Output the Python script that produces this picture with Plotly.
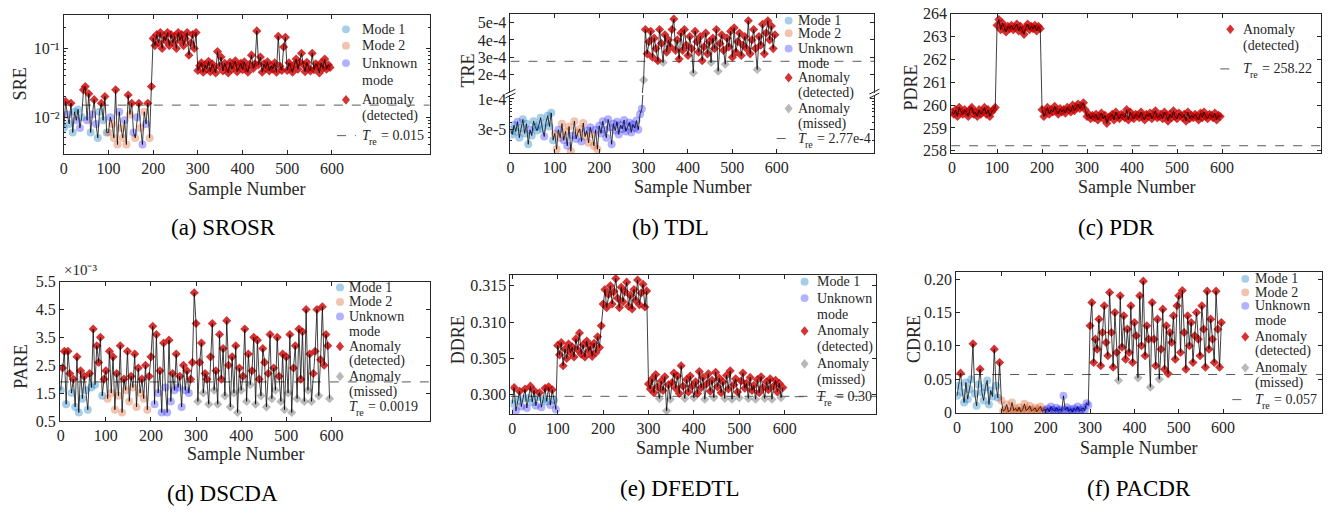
import plotly.graph_objects as go

W, H = 1332, 515
SERIF = "Liberation Serif"
INK = "#262626"

# ---------------- data ----------------
sample_numbers = list(range(0, 600, 4))
xtick_vals = [0, 100, 200, 300, 400, 500, 600]

# (a) SROSR  - SRE
sre_values = [
    0.007, 0.017, 0.011, 0.008, 0.016, 0.006, 0.012, 0.009, 0.013, 0.007,
    0.010, 0.025, 0.028, 0.009, 0.022, 0.006, 0.011, 0.018, 0.008, 0.005,
    0.012, 0.016, 0.009, 0.020, 0.006,
    0.006, 0.010, 0.008, 0.005, 0.025, 0.004, 0.012, 0.007, 0.005, 0.009,
    0.004, 0.021, 0.011, 0.016, 0.006, 0.005, 0.010, 0.016, 0.007, 0.004,
    0.012, 0.008, 0.016, 0.005, 0.028,
    0.14, 0.11, 0.16, 0.12, 0.17, 0.10, 0.15, 0.13, 0.17, 0.11,
    0.16, 0.12, 0.15, 0.10, 0.17, 0.13, 0.16, 0.11, 0.14, 0.17,
    0.08, 0.12, 0.16, 0.10, 0.17,
    0.048, 0.056, 0.062, 0.045, 0.058, 0.050, 0.065, 0.046, 0.060, 0.052,
    0.044, 0.090, 0.055, 0.075, 0.047, 0.061, 0.053, 0.044, 0.063, 0.050,
    0.057, 0.066, 0.046, 0.055, 0.061, 0.049, 0.064, 0.052, 0.045, 0.059,
    0.080, 0.051, 0.060, 0.180, 0.058, 0.075, 0.045, 0.060, 0.051, 0.064,
    0.047, 0.056, 0.050, 0.062, 0.045, 0.150, 0.055, 0.048, 0.105, 0.145,
    0.048, 0.062, 0.053, 0.045, 0.058, 0.070, 0.050, 0.063, 0.085, 0.058,
    0.046, 0.063, 0.052, 0.047, 0.085, 0.049, 0.060, 0.055, 0.044, 0.062,
    0.051, 0.070, 0.050, 0.058, 0.053,
]
sre_classes = ("11U1U11U1U1U1U11U1U11U1U1" + "2U22U2U22U2U22U2U22U2U22U"
               + "A" * 25 + "A" * 75)
sre_threshold = 0.015

# (b) TDL - TRE
tre_values = [
    3.0e-5, 2.5e-5, 3.6e-5, 2.8e-5, 4.1e-5, 2.2e-5, 3.2e-5, 4.5e-5, 2.6e-5, 3.8e-5,
    1.7e-5, 3.0e-5, 2.4e-5, 4.2e-5, 3.3e-5, 2.9e-5, 3.6e-5, 4.8e-5, 3.1e-5, 2.3e-5,
    4.0e-5, 5.2e-5, 3.4e-5, 5.8e-5, 2.0e-5,
    2.6e-5, 1.4e-5, 3.0e-5, 2.2e-5, 3.8e-5, 2.0e-5, 2.8e-5, 1.6e-5, 3.4e-5, 1.3e-5,
    2.4e-5, 4.2e-5, 2.1e-5, 2.7e-5, 3.1e-5, 1.9e-5, 3.9e-5, 2.3e-5, 2.9e-5, 1.8e-5,
    3.3e-5, 2.5e-5, 1.6e-5, 3.0e-5, 1.4e-5,
    3.5e-5, 2.6e-5, 4.2e-5, 3.0e-5, 2.2e-5, 4.5e-5, 3.3e-5, 1.7e-5, 3.8e-5, 2.9e-5,
    4.1e-5, 2.5e-5, 3.6e-5, 3.1e-5, 4.4e-5, 2.8e-5, 3.4e-5, 4.0e-5, 2.7e-5, 3.7e-5,
    3.2e-5, 4.3e-5, 3.0e-5, 5.5e-5, 6.8e-5,
    1.7e-4, 4.6e-4, 3.2e-4, 3.9e-4, 4.5e-4, 3.0e-4, 4.1e-4, 3.5e-4, 2.8e-4, 4.6e-4,
    3.8e-4, 2.7e-4, 4.3e-4, 3.3e-4, 4.0e-4, 3.6e-4, 4.6e-4, 5.2e-4, 3.4e-4, 4.0e-4,
    2.9e-4, 4.4e-4, 3.4e-4, 4.6e-4, 3.7e-4, 3.1e-4, 4.2e-4, 3.5e-4, 2.1e-4, 4.5e-4,
    3.9e-4, 3.3e-4, 4.2e-4, 2.8e-4, 3.6e-4, 4.4e-4, 3.2e-4, 3.9e-4, 2.7e-4, 4.1e-4,
    3.5e-4, 4.6e-4, 2.2e-4, 3.8e-4, 4.3e-4, 3.4e-4, 2.6e-4, 4.1e-4, 3.6e-4, 4.5e-4,
    3.0e-4, 4.7e-4, 3.3e-4, 3.9e-4, 4.4e-4, 3.1e-4, 3.7e-4, 4.2e-4, 3.5e-4, 5.1e-4,
    3.2e-4, 4.0e-4, 4.6e-4, 3.5e-4, 2.3e-4, 4.2e-4, 3.7e-4, 4.9e-4, 3.2e-4, 4.4e-4,
    5.1e-4, 4.0e-4, 4.8e-4, 3.5e-4, 4.3e-4,
]
tre_classes = ("1111U111111U1111111U11111" + "22U22U2U22U2U22U22U2U22U2"
               + "U" * 25 + "A" * 75)
tre_threshold = 2.77e-4

# (c) PDR - PDRE
pdre_values = [
    259.7, 259.6, 259.8, 259.5, 259.9, 259.7, 259.6, 259.8, 259.7, 259.5,
    259.8, 259.9, 259.6, 259.7, 259.5, 259.8, 259.6, 259.7, 259.9, 259.6,
    259.8, 259.5, 259.7, 259.8, 259.9,
    263.5, 263.75, 263.3, 263.6, 263.4, 263.2, 263.45, 263.35, 263.5, 263.3,
    263.4, 263.55, 263.25, 263.45, 263.3, 263.1, 263.4, 263.55, 263.3, 263.45,
    263.35, 263.5, 263.25, 263.45, 263.35,
    259.8, 259.5, 259.7, 259.9, 259.6, 259.8, 259.7, 259.95, 259.75, 259.6,
    259.85, 259.7, 259.8, 259.65, 259.9, 259.8, 259.7, 260.0, 259.75, 259.9,
    260.05, 259.85, 259.95, 260.1, 259.8,
    259.5, 259.6, 259.4, 259.55, 259.45, 259.6, 259.35, 259.5, 259.65, 259.4,
    259.55, 259.2, 259.45, 259.5, 259.6, 259.35, 259.7, 259.5, 259.4, 259.6,
    259.55, 259.45, 259.8, 259.35, 259.7, 259.5, 259.4, 259.6, 259.55, 259.45,
    259.7, 259.5, 259.35, 259.6, 259.5, 259.65, 259.4, 259.55, 259.75, 259.45,
    259.5, 259.6, 259.4, 259.7, 259.55, 259.3, 259.6, 259.45, 259.75, 259.5,
    259.4, 259.65, 259.55, 259.45, 259.6, 259.3, 259.7, 259.4, 259.55, 259.45,
    259.6, 259.5, 259.35, 259.65, 259.45, 259.7, 259.5, 259.4, 259.6, 259.55,
    259.45, 259.65, 259.35, 259.55, 259.5,
]
pdre_classes = "A" * 150
pdre_threshold = 258.22

# (d) DSCDA - PARE
pare_values = [
    1.6e-3, 2.4e-3, 3.0e-3, 1.1e-3, 3.0e-3, 2.2e-3, 1.5e-3, 2.0e-3, 1.0e-3, 2.8e-3,
    0.8e-3, 2.3e-3, 1.3e-3, 2.1e-3, 1.6e-3, 0.9e-3, 2.2e-3, 1.7e-3, 3.8e-3, 1.8e-3,
    3.2e-3, 2.6e-3, 3.5e-3, 1.4e-3, 2.0e-3,
    2.3e-3, 1.3e-3, 3.0e-3, 1.5e-3, 2.8e-3, 0.9e-3, 2.2e-3, 1.4e-3, 3.2e-3, 0.8e-3,
    2.0e-3, 1.6e-3, 3.0e-3, 1.2e-3, 2.1e-3, 1.7e-3, 2.9e-3, 1.0e-3, 2.4e-3, 1.5e-3,
    2.0e-3, 1.3e-3, 2.5e-3, 0.9e-3, 2.1e-3,
    2.8e-3, 3.9e-3, 1.1e-3, 3.6e-3, 1.5e-3, 2.3e-3, 0.8e-3, 3.3e-3, 1.7e-3, 0.8e-3,
    3.4e-3, 1.2e-3, 2.2e-3, 1.6e-3, 2.9e-3, 1.7e-3, 2.1e-3, 1.0e-3, 2.5e-3, 1.6e-3,
    2.3e-3, 1.5e-3, 2.0e-3, 2.6e-3, 5.1e-3,
    4.0e-3, 1.2e-3, 2.6e-3, 3.3e-3, 1.5e-3, 2.2e-3, 2.0e-3, 1.1e-3, 2.8e-3, 4.0e-3,
    1.6e-3, 2.3e-3, 1.1e-3, 3.6e-3, 2.0e-3, 3.1e-3, 1.4e-3, 4.1e-3, 2.5e-3, 1.0e-3,
    2.8e-3, 1.5e-3, 3.2e-3, 0.8e-3, 2.4e-3, 1.6e-3, 2.1e-3, 3.8e-3, 1.2e-3, 2.9e-3,
    1.8e-3, 2.3e-3, 3.5e-3, 1.1e-3, 3.4e-3, 2.0e-3, 1.4e-3, 3.1e-3, 2.6e-3, 1.0e-3,
    2.2e-3, 3.6e-3, 1.3e-3, 2.4e-3, 1.6e-3, 3.5e-3, 2.1e-3, 1.2e-3, 2.9e-3, 0.9e-3,
    2.8e-3, 1.5e-3, 3.6e-3, 0.8e-3, 2.4e-3, 3.2e-3, 1.3e-3, 3.8e-3, 2.0e-3, 3.7e-3,
    1.2e-3, 4.5e-3, 1.6e-3, 2.9e-3, 1.2e-3, 2.2e-3, 3.0e-3, 4.5e-3, 1.4e-3, 2.7e-3,
    4.6e-3, 2.5e-3, 3.6e-3, 3.2e-3, 1.3e-3,
]
pare_classes = "1" * 25 + "2" * 25 + "U" * 25 + "A" * 75
pare_threshold = 0.0019

# (e) DFEDTL - DDRE
ddre_values = [
    0.2988, 0.3010, 0.2978, 0.2992, 0.3005, 0.2984, 0.2995, 0.3008, 0.2982, 0.2996,
    0.3012, 0.2990, 0.3006, 0.2985, 0.2997, 0.3003, 0.2983, 0.2994, 0.3009, 0.2991,
    0.3011, 0.2986, 0.3007, 0.2993, 0.2980,
    0.3068, 0.3055, 0.3072, 0.3040, 0.3063, 0.3050, 0.3070, 0.3058, 0.3066, 0.3052,
    0.3077, 0.3062, 0.3085, 0.3056, 0.3069, 0.3052, 0.3074, 0.3060, 0.3067, 0.3053,
    0.3071, 0.3058, 0.3080, 0.3065, 0.3095,
    0.3125, 0.3145, 0.3120, 0.3138, 0.3150, 0.3125, 0.3142, 0.3160, 0.3133, 0.3120,
    0.3148, 0.3128, 0.3142, 0.3155, 0.3122, 0.3137, 0.3118, 0.3145, 0.3130, 0.3158,
    0.3124, 0.3140, 0.3152, 0.3121, 0.3143,
    0.3015, 0.3008, 0.3022, 0.3003, 0.3028, 0.3011, 0.2995, 0.3019, 0.3006, 0.3025,
    0.2978, 0.3014, 0.2994, 0.3017, 0.3030, 0.3009, 0.3026, 0.3002, 0.3040, 0.3012,
    0.2995, 0.3021, 0.3004, 0.3026, 0.3012, 0.2996, 0.3018, 0.3002, 0.3032, 0.3010,
    0.3024, 0.2994, 0.3015, 0.3029, 0.3005, 0.3020, 0.2996, 0.3031, 0.3011, 0.3023,
    0.3003, 0.3018, 0.2995, 0.3027, 0.3008, 0.3033, 0.2994, 0.3014, 0.3022, 0.3004,
    0.2996, 0.3019, 0.3030, 0.3009, 0.3016, 0.2995, 0.3024, 0.3006, 0.3013, 0.2994,
    0.3021, 0.3003, 0.3025, 0.3010, 0.2995, 0.3018, 0.3007, 0.3022, 0.2994, 0.3012,
    0.3020, 0.3004, 0.3016, 0.2996, 0.3010,
]
ddre_classes = "11U11U11U1111U11U1111U11U" + "A" * 125
ddre_threshold = 0.2998

# (f) PACDR - CDRE
cdre_values = [
    0.025, 0.040, 0.059, 0.030, 0.015, 0.045, 0.020, 0.035, 0.050, 0.103,
    0.028, 0.010, 0.042, 0.065, 0.030, 0.018, 0.038, 0.048, 0.012, 0.033,
    0.024, 0.095, 0.040, 0.022, 0.075,
    0.018, 0.002, 0.004, 0.012, 0.001, 0.003, 0.015, 0.003, 0.006, 0.002,
    0.008, 0.001, 0.004, 0.013, 0.003, 0.005, 0.010, 0.002, 0.004, 0.007,
    0.001, 0.005, 0.009, 0.002, 0.004,
    0.003, 0.006, 0.001, 0.009, 0.004, 0.002, 0.007, 0.003, 0.005, 0.002,
    0.025, 0.004, 0.008, 0.002, 0.005, 0.001, 0.006, 0.003, 0.009, 0.002,
    0.004, 0.007, 0.003, 0.014, 0.011,
    0.130, 0.165, 0.075, 0.110, 0.095, 0.140, 0.070, 0.120, 0.160, 0.105,
    0.085, 0.180, 0.120, 0.068, 0.150, 0.090, 0.048, 0.175, 0.098, 0.145,
    0.080, 0.125, 0.090, 0.160, 0.075, 0.135, 0.115, 0.052, 0.175, 0.100,
    0.197, 0.085, 0.130, 0.110, 0.038, 0.165, 0.110, 0.070, 0.140, 0.050,
    0.095, 0.155, 0.065, 0.130, 0.058, 0.120, 0.105, 0.145, 0.080, 0.160,
    0.175, 0.090, 0.183, 0.120, 0.065, 0.145, 0.100, 0.135, 0.075, 0.115,
    0.150, 0.110, 0.085, 0.160, 0.125, 0.068, 0.182, 0.095, 0.140, 0.110,
    0.075, 0.182, 0.125, 0.068, 0.135,
]
cdre_classes = "1" * 25 + "2" * 25 + "U" * 25 + "A" * 75
cdre_threshold = 0.057

for arr, cls in [(sre_values, sre_classes), (tre_values, tre_classes), (pdre_values, pdre_classes),
                 (pare_values, pare_classes), (ddre_values, ddre_classes), (cdre_values, cdre_classes)]:
    assert len(arr) == len(sample_numbers) == len(cls), (len(arr), len(cls))


# ---------------- helpers ----------------
def px_x(p):
    return p / W


def px_y(p):
    return 1 - p / H


STYLE = {
    "1": ("Mode 1", "circle", "rgba(0,114,189,0.35)", 8),
    "2": ("Mode 2", "circle", "rgba(217,83,25,0.35)", 8),
    "U": ("Unknown mode", "circle", "rgba(0,0,255,0.30)", 8),
    "M": ("Anomaly (missed)", "diamond", "rgba(128,128,128,0.55)", 7),
    "D": ("Anomaly (detected)", "diamond", "rgba(200,0,0,0.80)", 7),
}

fig = go.Figure()


def add_series(values, classes, thr, xref, yref, xr):
    fig.add_trace(go.Scatter(x=[xr[0], xr[1]], y=[thr, thr], mode="lines",
                             line=dict(color="rgb(90,90,90)", width=1, dash="dash"),
                             xaxis=xref, yaxis=yref, showlegend=False, hoverinfo="skip"))
    groups = {k: ([], []) for k in "12UMD"}
    for s, v, c in zip(sample_numbers, values, classes):
        k = "D" if v > thr else ("M" if c == "A" else c)
        groups[k][0].append(s)
        groups[k][1].append(v)
    for k in "12UMD":
        xs, ys = groups[k]
        if not xs:
            continue
        name, sym, col, size = STYLE[k]
        fig.add_trace(go.Scatter(x=xs, y=ys, mode="markers", name=name,
                                 marker=dict(symbol=sym, color=col, size=size, line=dict(width=0)),
                                 xaxis=xref, yaxis=yref, showlegend=False))
    fig.add_trace(go.Scatter(x=sample_numbers, y=values, mode="lines",
                             line=dict(color="black", width=0.75),
                             xaxis=xref, yaxis=yref, showlegend=False, hoverinfo="skip"))


TICKFONT = dict(family=SERIF, size=16, color=INK)


def xcfg(dom, rng, anchor, **kw):
    d = dict(domain=[px_x(dom[0]), px_x(dom[1])], range=rng, anchor=anchor,
             tickmode="array", tickvals=xtick_vals, ticks="inside", ticklen=4, tickwidth=1,
             tickcolor=INK, showline=True, linecolor=INK, linewidth=1, mirror="ticks",
             showgrid=False, zeroline=False, tickfont=TICKFONT)
    d.update(kw)
    return d


def ycfg(dom, rng, anchor, **kw):
    d = dict(domain=[px_y(dom[1]), px_y(dom[0])], range=rng, anchor=anchor,
             ticks="inside", ticklen=4, tickwidth=1, tickcolor=INK, showline=True,
             linecolor=INK, linewidth=1, mirror="ticks", showgrid=False, zeroline=False,
             tickfont=TICKFONT)
    d.update(kw)
    return d


XR = {
    "a": [0, 819], "b": [0, 820], "c": [-2, 820],
    "d": [-2, 818], "e": [-4, 802], "f": [-2, 823],
}

add_series(sre_values, sre_classes, sre_threshold, "x", "y", XR["a"])
add_series(tre_values, tre_classes, tre_threshold, "x2", "y2", XR["b"])
add_series(tre_values, tre_classes, tre_threshold, "x3", "y3", XR["b"])
add_series(pdre_values, pdre_classes, pdre_threshold, "x4", "y4", XR["c"])
add_series(pare_values, pare_classes, pare_threshold, "x5", "y5", XR["d"])
add_series(ddre_values, ddre_classes, ddre_threshold, "x6", "y6", XR["e"])
add_series(cdre_values, cdre_classes, cdre_threshold, "x7", "y7", XR["f"])

layout = dict(
    width=W, height=H, margin=dict(l=0, r=0, t=0, b=0),
    paper_bgcolor="white", plot_bgcolor="white", showlegend=False,
    font=dict(family=SERIF, color=INK, size=16),
    xaxis=xcfg((60, 427), XR["a"], "y"),
    yaxis=ycfg((7, 151), [-2.535, -0.51], "x", type="log",
               tickvals=[0.01, 0.1], ticktext=["10\u207b\u00b2", "10\u207b\u00b9"],
               minor=dict(ticks="inside", ticklen=2, tickcolor=INK,
                          tickvals=[0.003, 0.004, 0.005, 0.006, 0.007, 0.008, 0.009,
                                    0.02, 0.03, 0.04, 0.05, 0.06, 0.07, 0.08, 0.09, 0.2, 0.3])),
    xaxis2=xcfg((508, 873), XR["b"], "y2", mirror=False),
    yaxis2=ycfg((90, 150), [-4.918, -3.934], "x2", type="log",
                tickvals=[3e-5, 1e-4], ticktext=["3e-5", "1e-4"],
                minor=dict(ticks="inside", ticklen=2, tickcolor=INK,
                           tickvals=[2e-5, 4e-5, 5e-5, 6e-5, 7e-5, 8e-5, 9e-5])),
    xaxis3=xcfg((508, 873), XR["b"], "y3", side="top", mirror=False, showticklabels=False),
    yaxis3=ycfg((6, 88), [0.944e-4, 5.5e-4], "x3",
                tickvals=[2e-4, 3e-4, 4e-4, 5e-4], ticktext=["2e-4", "3e-4", "4e-4", "5e-4"]),
    xaxis4=xcfg((950, 1321), XR["c"], "y4"),
    yaxis4=ycfg((6, 150), [257.9, 264.0], "x4", tickvals=[258, 259, 260, 261, 262, 263, 264]),
    xaxis5=xcfg((56, 427), XR["d"], "y5"),
    yaxis5=ycfg((283, 427), [0.0005, 0.0055], "x5",
                tickvals=[0.0005, 0.0015, 0.0025, 0.0035, 0.0045, 0.0055],
                ticktext=["0.5", "1.5", "2.5", "3.5", "4.5", "5.5"]),
    xaxis6=xcfg((508, 875), XR["e"], "y6"),
    yaxis6=ycfg((276, 420), [0.29735, 0.3165], "x6",
                tickvals=[0.300, 0.305, 0.310, 0.315], ticktext=["0.300", "0.305", "0.310", "0.315"]),
    xaxis7=xcfg((955, 1322), XR["f"], "y7"),
    yaxis7=ycfg((273, 419), [-0.001, 0.2107], "x7",
                tickvals=[0, 0.05, 0.10, 0.15, 0.20], ticktext=["0", "0.05", "0.10", "0.15", "0.20"]),
)
fig.update_layout(**layout)

annotations = []
shapes = []


def text(px, py, s, size, color=INK, angle=0, xanchor="center", yanchor="middle"):
    annotations.append(dict(x=px_x(px), y=px_y(py), xref="paper", yref="paper", text=s,
                            showarrow=False, textangle=angle, xanchor=xanchor, yanchor=yanchor,
                            font=dict(family=SERIF, size=size, color=color)))


# axis titles
for cx, cy in [(243, 187), (691, 185), (1136, 185), (242, 461), (693, 455), (1138, 455)]:
    text(cx, cy, "Sample Number", 18)
for cx, cy, s in [(16, 78, "SRE"), (465, 65, "TRE"), (910, 82, "PDRE"), (17, 371, "PARE"),
                  (455, 343, "DDRE"), (912, 342, "CDRE")]:
    text(cx, cy, s, 18, angle=-90)

# sub-captions
for cx, cy, s in [(220, 227, "(a) SROSR"), (669, 227, "(b) TDL"), (1116, 227, "(c) PDR"),
                  (219, 502, "(d) DSCDA"), (678, 497, "(e) DFEDTL"), (1138, 497, "(f) PACDR")]:
    text(cx, cy, s, 23, color="black")

# exponent label for (d)
text(58, 271, "\u00d710\u207b\u00b3", 15, xanchor="left")

# axis-break marks on (b)
for bx in (508, 873):
    for by in (86.5, 90.5):
        shapes.append(dict(type="line", xref="paper", yref="paper",
                           x0=px_x(bx - 5), y0=px_y(by + 2.5), x1=px_x(bx + 5), y1=px_y(by - 2.5),
                           line=dict(color=INK, width=1)))


# legends (drawn as symbols + text, laid out like the reference)
def legend_symbol(kind, sx, sy):
    name, sym, col, _ = STYLE[kind]
    if sym == "circle":
        shapes.append(dict(type="circle", xref="paper", yref="paper",
                           x0=px_x(sx - 4), x1=px_x(sx + 4), y0=px_y(sy + 4), y1=px_y(sy - 4),
                           fillcolor=col, line=dict(width=0)))
    else:
        path = "M {:.5f},{:.5f} L {:.5f},{:.5f} L {:.5f},{:.5f} L {:.5f},{:.5f} Z".format(
            px_x(sx), px_y(sy - 5), px_x(sx + 4), px_y(sy), px_x(sx), px_y(sy + 5), px_x(sx - 4), px_y(sy))
        shapes.append(dict(type="path", xref="paper", yref="paper", path=path,
                           fillcolor=col, line=dict(width=0)))


LEG = [
    dict(sx=343, tx=357, thr="0.015", dash=(334, 353),
         items=[("1", [22], ["Mode 1"]), ("2", [39], ["Mode 2"]), ("U", [57, 75], ["Unknown", "mode"]),
                ("D", [95, 112], ["Anomaly", "(detected)"]), ("T", [132], None)]),
    dict(sx=787, tx=794, thr="2.77e-4", dash=(775, 792),
         items=[("1", [13], ["Mode 1"]), ("2", [26], ["Mode 2"]), ("U", [42, 57], ["Unknown", "mode"]),
                ("D", [72, 88], ["Anomaly", "(detected)"]), ("M", [104, 120], ["Anomaly", "(missed)"]),
                ("T", [135], None)]),
    dict(sx=1230, tx=1241, thr="258.22", dash=(1220, 1237),
         items=[("D", [22, 39], ["Anomaly", "(detected)"]), ("T", [63], None)]),
    dict(sx=337, tx=344, thr="0.0019", dash=None,
         items=[("1", [289], ["Mode 1"]), ("2", [304], ["Mode 2"]), ("U", [319, 335], ["Unknown", "mode"]),
                ("D", [350, 365], ["Anomaly", "(detected)"]), ("M", [381, 397], ["Anomaly", "(missed)"]),
                ("T", [412], None)]),
    dict(sx=803, tx=813, thr="0.30", dash=(793, 810),
         items=[("1", [283], ["Mode 1"]), ("U", [300, 317], ["Unknown", "mode"]),
                ("D", [334, 351], ["Anomaly", "(detected)"]), ("M", [368, 385], ["Anomaly", "(missed)"]),
                ("T", [402], None)]),
    dict(sx=1245, tx=1253, thr="0.057", dash=(1232, 1250),
         items=[("1", [280], ["Mode 1"]), ("2", [294], ["Mode 2"]), ("U", [308, 323], ["Unknown", "mode"]),
                ("D", [340, 355], ["Anomaly", "(detected)"]), ("M", [372, 388], ["Anomaly", "(missed)"]),
                ("T", [405], None)]),
]

for leg in LEG:
    for kind, rows, lines in leg["items"]:
        if kind == "T":
            y0 = rows[0]
            if leg["dash"]:
                shapes.append(dict(type="line", xref="paper", yref="paper",
                                   x0=px_x(leg["dash"][0]), x1=px_x(leg["dash"][1]),
                                   y0=px_y(y0), y1=px_y(y0),
                                   line=dict(color="rgb(90,90,90)", width=1, dash="dash")))
            tx = leg["tx"]
            text(tx, y0, "<i>T</i>", 14, xanchor="left")
            text(tx + 7, y0 + 6, "re", 10, xanchor="left")
            text(tx + 19, y0, "= " + leg["thr"], 14, xanchor="left")
        else:
            legend_symbol(kind, leg["sx"], rows[0])
            for r, s in zip(rows, lines):
                text(leg["tx"], r, s, 14, xanchor="left")

fig.update_layout(annotations=annotations, shapes=shapes)
fig.write_html("out.html")
